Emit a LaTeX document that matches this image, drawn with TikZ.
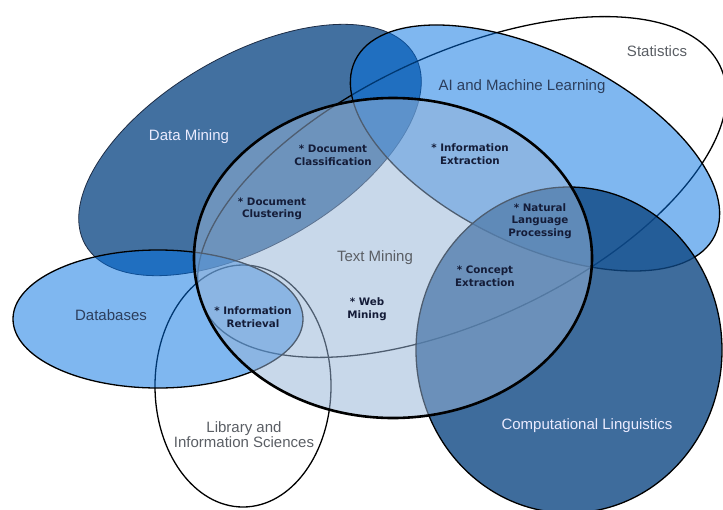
\documentclass[tikz,border=0pt]{standalone}
\usepackage{fontspec}
\setmainfont{Liberation Sans}
\newfontfamily\topicfont{DejaVu Sans}
\usepackage{xcolor}
\usepackage{tikz}

\definecolor{dmblue}{RGB}{66,112,160}
\definecolor{dmedge}{RGB}{30,45,70}
\definecolor{skyblue}{RGB}{0,111,225}
\definecolor{clblue}{RGB}{14,71,131}
\definecolor{tmblue}{RGB}{150,180,215}
\definecolor{topictext}{RGB}{20,28,56}
\definecolor{greytext}{RGB}{90,94,100}
\definecolor{slatetext}{RGB}{44,62,92}

\tikzset{
    field/.style={line width=1.3pt, draw=black},
    dm field/.style={fill=dmblue, draw=dmedge, line width=0.8pt},
    sky field/.style={field, fill=skyblue, fill opacity=0.5},
    cl field/.style={field, fill=clblue, fill opacity=0.8},
    tm field/.style={fill=tmblue, fill opacity=0.52, draw=black, line width=2.6pt},
    label/.style={font=\fontsize{15}{15}\selectfont, align=center, inner sep=0pt},
    topic/.style={font=\topicfont\bfseries\fontsize{10.3}{12.5}\selectfont,
        text=topictext, align=center, inner sep=0pt},
}

\begin{document}
\begin{tikzpicture}[x=1pt,y=-1pt]
    \useasboundingbox (0,0) rectangle (723,509);
    \clip (0,0) rectangle (723,509);
    \coordinate (c_dm) at (250,150);
    \coordinate (c_st) at (462,187);
    \coordinate (c_li) at (243,386);
    \coordinate (c_db) at (158,319);
    \coordinate (c_ai) at (535,148);
    \coordinate (c_cl) at (569,350);
    \coordinate (c_tm) at (393,258);
    % fields
    \draw[dm field, rotate around={30:(c_dm)}] (c_dm) ellipse [x radius=190, y radius=95];
    \draw[field, rotate around={25:(c_st)}] (c_st) ellipse [x radius=285, y radius=133];
    \draw[field] (c_li) ellipse [x radius=88, y radius=121];
    \draw[sky field] (c_db) ellipse [x radius=145, y radius=69];
    \draw[sky field, rotate around={-26:(c_ai)}] (c_ai) ellipse [x radius=200, y radius=96];
    \draw[cl field] (c_cl) ellipse [x radius=153, y radius=163];
    \draw[tm field] (c_tm) ellipse [x radius=199, y radius=160];
    % field names
    \node[label, text=white!92!blue] (l_dm) at (189,137) {Data Mining};
    \node[label, text=slatetext] (l_ai) at (522,87) {AI and Machine Learning};
    \node[label, text=greytext] (l_st) at (657,51) {Statistics};
    \node[label, text=slatetext] (l_db) at (111,315) {Databases};
    \node[label, text=greytext] (l_tm) at (375,258) {Text Mining};
    \node[label, text=greytext] (l_li) at (244,435) {Library and\\Information Sciences};
    \node[label, text=white!92!blue] (l_cl) at (587,426) {Computational Linguistics};
    % topics
    \node[topic] (t_class) at (333,155) {* Document\\Classification};
    \node[topic] (t_clust) at (272,209) {* Document\\Clustering};
    \node[topic] (t_extr) at (470,154) {* Information\\Extraction};
    \node[topic] (t_nlp) at (540,221) {* Natural\\Language\\Processing};
    \node[topic] (t_conc) at (485,276) {* Concept\\Extraction};
    \node[topic] (t_web) at (367,309) {* Web\\Mining};
    \node[topic] (t_retr) at (253,317) {* Information\\Retrieval};
\end{tikzpicture}
\end{document}
